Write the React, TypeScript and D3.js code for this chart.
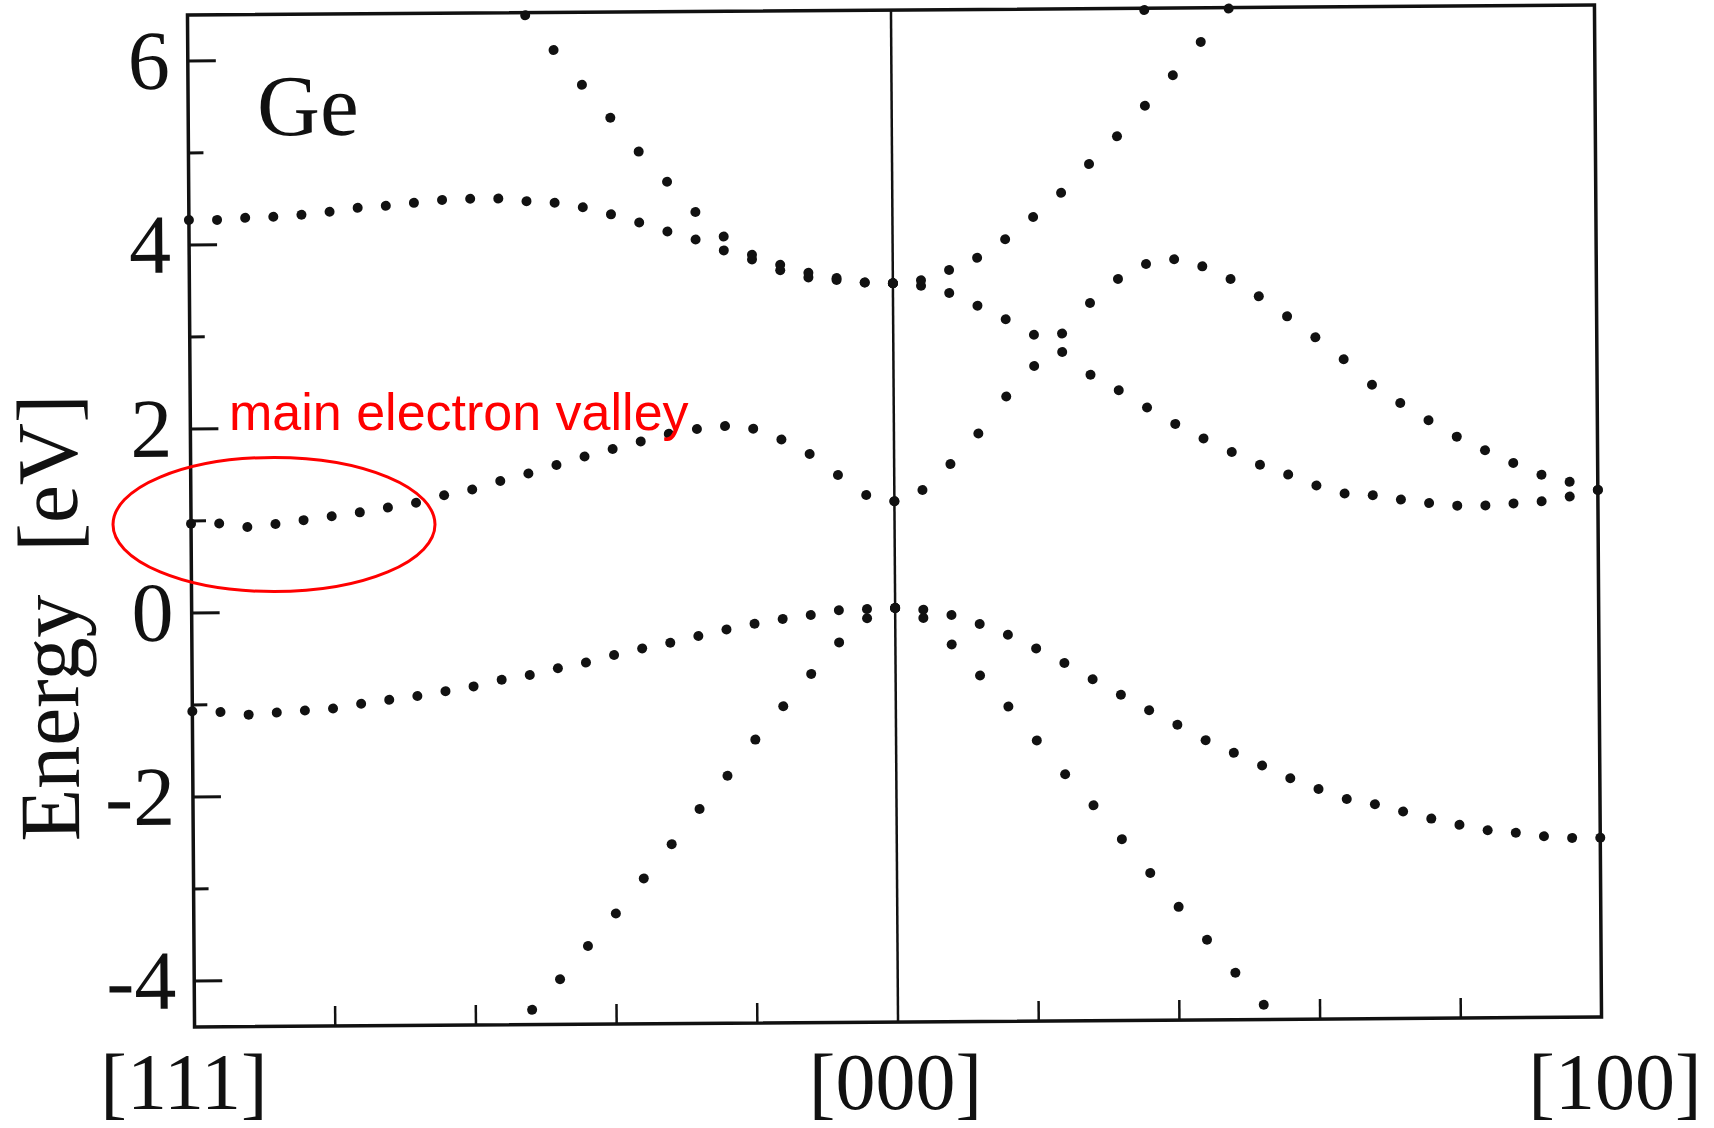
import React from "react";
import * as d3 from "d3";

// k-points sampled along each half of the path (fraction of the way to the zone edge)
const kToGamma = [
  -1.0, -0.96, -0.92, -0.88, -0.84, -0.8, -0.76, -0.72, -0.68, -0.64, -0.6, -0.56, -0.52,
  -0.48, -0.44, -0.4, -0.36, -0.32, -0.28, -0.24, -0.2, -0.16, -0.12, -0.08, -0.04, 0.0,
];
const kToX = [
  0.0, 0.04, 0.08, 0.12, 0.16, 0.2, 0.24, 0.28, 0.32, 0.36, 0.4, 0.44, 0.48,
  0.52, 0.56, 0.6, 0.64, 0.68, 0.72, 0.76, 0.8, 0.84, 0.88, 0.92, 0.96, 1.0,
];

// Λ direction: L [111] -> Γ [000], energies in eV (null = outside the window)
const lambdaUpper = [
  4.27, 4.27, 4.29, 4.3, 4.32, 4.35, 4.39, 4.41, 4.44, 4.47, 4.48, 4.48, 4.45,
  4.43, 4.38, 4.3, 4.21, 4.11, 4.02, 3.9, 3.8, 3.68, 3.6, 3.57, 3.54, 3.53,
];
const lambdaSteep = [
  null, null, null, null, null, null, null, null, null, null, null, null, 6.47,
  6.09, 5.71, 5.35, 4.98, 4.65, 4.32, 4.05, 3.85, 3.74, 3.65, 3.59, 3.54, 3.53,
];
const lambdaConduction = [
  0.97, 0.97, 0.93, 0.96, 1.0, 1.04, 1.08, 1.13, 1.18, 1.26, 1.32, 1.41, 1.49,
  1.58, 1.67, 1.75, 1.83, 1.91, 1.96, 1.99, 1.96, 1.84, 1.68, 1.45, 1.23, 1.16,
];
const lambdaHeavyHole = [
  -1.07, -1.08, -1.11, -1.09, -1.07, -1.05, -1.0, -0.96, -0.92, -0.87, -0.82, -0.75, -0.7,
  -0.63, -0.57, -0.49, -0.42, -0.36, -0.29, -0.22, -0.16, -0.11, -0.07, -0.02, -0.01, 0.0,
];
const lambdaLightHole = [
  null, null, null, null, null, null, null, null, null, null, null, null, -4.34,
  -4.01, -3.65, -3.3, -2.92, -2.55, -2.17, -1.81, -1.42, -1.06, -0.71, -0.37, -0.11, 0.0,
];

// Δ direction: Γ [000] -> X [100]
const deltaConductionLow = [
  1.16, 1.28, 1.56, 1.89, 2.29, 2.62, 2.97, 3.3, 3.56, 3.72, 3.77, 3.69, 3.55,
  3.36, 3.14, 2.91, 2.67, 2.39, 2.19, 2.0, 1.82, 1.67, 1.53, 1.4, 1.32, 1.23,
];
const deltaConductionMid = [
  3.53, 3.5, 3.42, 3.28, 3.13, 2.96, 2.77, 2.52, 2.35, 2.16, 1.98, 1.82, 1.67,
  1.53, 1.42, 1.3, 1.21, 1.19, 1.14, 1.1, 1.07, 1.07, 1.09, 1.11, 1.16, 1.23,
];
const deltaConductionSteep = [
  3.53, 3.56, 3.67, 3.8, 4.0, 4.24, 4.5, 4.81, 5.11, 5.44, 5.77, 6.13, 6.49,
  null, null, null, null, null, null, null, null, null, null, null, null, null,
];
const deltaUpperEdge = [
  null, null, null, null, null, null, null, null, null, 6.48, null, null, null,
  null, null, null, null, null, null, null, null, null, null, null, null, null,
];
const deltaHeavyHole = [
  0.0, -0.02, -0.08, -0.18, -0.3, -0.45, -0.61, -0.79, -0.96, -1.13, -1.29, -1.46, -1.6,
  -1.74, -1.88, -2.0, -2.11, -2.17, -2.25, -2.33, -2.4, -2.46, -2.49, -2.53, -2.55, -2.55,
];
const deltaLightHole = [
  0.0, -0.11, -0.4, -0.74, -1.08, -1.45, -1.82, -2.16, -2.53, -2.9, -3.27, -3.63, -3.99,
  -4.34, null, null, null, null, null, null, null, null, null, null, null, null,
];

const energyTicks = [-4, -2, 0, 2, 4, 6];
const energyMinorTicks = [-3, -1, 1, 3, 5];
const kTicks = [-0.8, -0.6, -0.4, -0.2, 0.2, 0.4, 0.6, 0.8];
const pathLabels = ["[111]", "[000]", "[100]"];
const pathLabelK = [-1, 0, 1];

const W = 1714;
const H = 1128;
const plot = { left: 191, right: 1598, top: 10, bottom: 1022 };
const serif = "'Liberation Serif', 'Times New Roman', serif";
const sans = "'Liberation Sans', Arial, sans-serif";

type Dot = { k: number; e: number };

function toDots(ks: number[], es: (number | null)[]): Dot[] {
  const out: Dot[] = [];
  es.forEach((e, i) => {
    if (e !== null) out.push({ k: ks[i], e });
  });
  return out;
}

export default function App() {
  const x = d3.scaleLinear().domain([-1, 1]).range([plot.left, plot.right]);
  const y = d3.scaleLinear().domain([-4.5, 6.5]).range([plot.bottom, plot.top]);

  const dots: Dot[] = [
    ...toDots(kToGamma, lambdaUpper),
    ...toDots(kToGamma, lambdaSteep),
    ...toDots(kToGamma, lambdaConduction),
    ...toDots(kToGamma, lambdaHeavyHole),
    ...toDots(kToGamma, lambdaLightHole),
    ...toDots(kToX, deltaConductionLow),
    ...toDots(kToX, deltaConductionMid),
    ...toDots(kToX, deltaConductionSteep),
    ...toDots(kToX, deltaUpperEdge),
    ...toDots(kToX, deltaHeavyHole),
    ...toDots(kToX, deltaLightHole),
  ];

  const labelDx = [-7, 1, 17];
  const cx = (plot.left + plot.right) / 2;
  const cy = (plot.top + plot.bottom) / 2;

  return (
    <svg
      width={W}
      height={H}
      viewBox={`0 0 ${W} ${H}`}
      style={{ position: "absolute", left: 0, top: 0, background: "#fff" }}
    >
      <rect x={0} y={0} width={W} height={H} fill="#fff" />
      <g transform={`rotate(-0.4, ${cx}, ${cy})`}>
        {/* frame */}
        <rect
          x={plot.left}
          y={plot.top}
          width={plot.right - plot.left}
          height={plot.bottom - plot.top}
          fill="none"
          stroke="#111"
          strokeWidth={3.5}
        />
        {/* Γ line */}
        <line x1={x(0)} x2={x(0)} y1={plot.top} y2={plot.bottom} stroke="#111" strokeWidth={2.5} />

        {/* energy ticks */}
        {energyTicks.map((t) => (
          <g key={"t" + t}>
            <line x1={plot.left} x2={plot.left + 28} y1={y(t)} y2={y(t)} stroke="#111" strokeWidth={3} />
            <text
              x={plot.left - 18}
              y={y(t)}
              dy="0.33em"
              textAnchor="end"
              fontFamily={serif}
              fontSize={84}
              fill="#111"
            >
              {String(t)}
            </text>
          </g>
        ))}
        {energyMinorTicks.map((t) => (
          <line key={"m" + t} x1={plot.left} x2={plot.left + 15} y1={y(t)} y2={y(t)} stroke="#111" strokeWidth={3} />
        ))}

        {/* k ticks */}
        {kTicks.map((t) => (
          <line key={"k" + t} x1={x(t)} x2={x(t)} y1={plot.bottom} y2={plot.bottom - 20} stroke="#111" strokeWidth={2.5} />
        ))}

        {/* axis title */}
        <text
          transform={`translate(77, 612) rotate(-90)`}
          textAnchor="middle"
          fontFamily={serif}
          fontSize={86}
          fill="#111"
        >
          {"Energy\u00a0\u00a0[eV]"}
        </text>

        <text x={260} y={131} fontFamily={serif} fontSize={87} fill="#111">
          Ge
        </text>

        {/* band dots */}
        {dots.map((d, i) => (
          <circle key={i} cx={x(d.k)} cy={y(d.e)} r={5} fill="#111" />
        ))}
      </g>

      {/* high-symmetry point labels */}
      {pathLabels.map((lab, i) => (
        <text
          key={lab}
          x={x(pathLabelK[i]) + labelDx[i]}
          y={1109}
          textAnchor="middle"
          fontFamily={serif}
          fontSize={80}
          fill="#111"
        >
          {lab}
        </text>
      ))}

      {/* annotation */}
      <text x={229} y={430} fontFamily={sans} fontSize={52} fill="#ff0000">
        main electron valley
      </text>
      <ellipse cx={274} cy={524.5} rx={161} ry={67} fill="none" stroke="#ff0000" strokeWidth={3} />
    </svg>
  );
}
